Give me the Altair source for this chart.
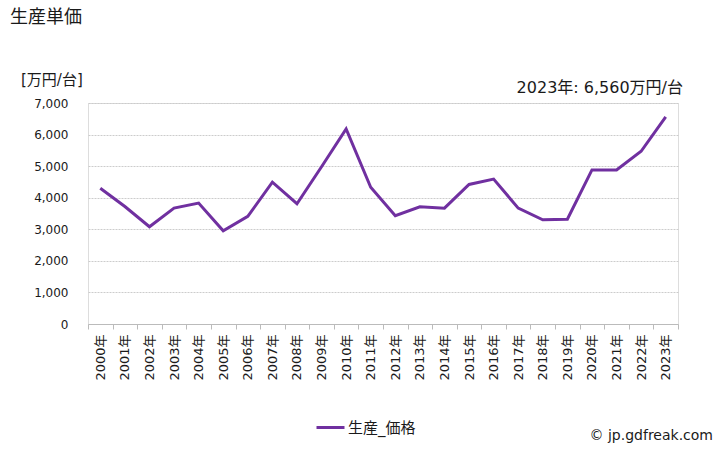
import altair as alt
import pandas as pd

years = [f"{y}年" for y in range(2000, 2024)]
values = [4300, 3720, 3080, 3670, 3830, 2950, 3410, 4490, 3810, 4980, 6180, 4330,
          3430, 3710, 3670, 4420, 4590, 3670, 3300, 3320, 4880, 4880, 5470, 6560]
series_name = "生産_価格"

title_text = "生産単価"
unit_text = "[万円/台]"
note_text = "2023年: 6,560万円/台"
credit_text = "© jp.gdfreak.com"

FONT = "DejaVu Sans, Noto Sans CJK JP"
PURPLE = "#7030A0"
TXT = "#1a1a1a"

df = pd.DataFrame({"year": years, "value": values, "series": series_name})

W, H = 590, 221

line = alt.Chart(df).mark_line(strokeWidth=3).encode(
    x=alt.X("year:N", sort=years, title=None,
            scale=alt.Scale(paddingInner=0, paddingOuter=0),
            axis=alt.Axis(labelAngle=270, labelFont=FONT, labelFontSize=13,
                          labelColor=TXT, tickBand="extent", tickColor="#bbb",
                          domainColor="#bbb", labelPadding=5, labelBaseline="middle",
                          labelAlign="right", grid=False)),
    y=alt.Y("value:Q", title=None,
            scale=alt.Scale(domain=[0, 7000], nice=False),
            axis=alt.Axis(values=list(range(0, 7001, 1000)), format=",d",
                          labelFont=FONT, labelFontSize=12, labelColor=TXT,
                          domain=False, ticks=False, labelPadding=20,
                          gridColor="#cccccc", gridDash=[2, 1])),
    color=alt.Color("series:N", title=None,
                    scale=alt.Scale(domain=[series_name], range=[PURPLE]),
                    legend=alt.Legend(orient="none", legendX=227, legendY=309,
                                      direction="horizontal", symbolType="stroke",
                                      symbolStrokeWidth=3, symbolSize=784,
                                      labelFont=FONT, labelFontSize=15,
                                      labelColor=TXT, labelOffset=2)),
)

def label(text, x, y, size, align="left"):
    return alt.Chart(pd.DataFrame({"t": [text]})).mark_text(
        font=FONT, fontSize=size, align=align, baseline="alphabetic", color=TXT
    ).encode(x=alt.value(x), y=alt.value(y), text="t:N")

chart = alt.layer(
    line,
    label(title_text, -78, -80, 18),
    label(unit_text, -67, -18, 15),
    label(note_text, 595, -10, 16, align="right"),
    label(credit_text, 625, 337, 14, align="right"),
).properties(
    width=W, height=H,
    autosize=alt.AutoSizeParams(type="none"),
    padding={"left": 88, "top": 103, "right": 50, "bottom": 126},
).configure_view(stroke=None).configure(background="white")

chart.save("out.html", embed_options={"renderer": "svg", "actions": False})
